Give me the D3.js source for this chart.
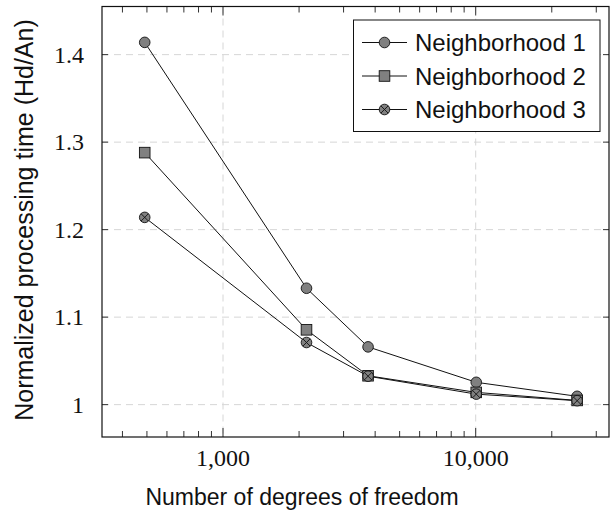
<!DOCTYPE html>
<html lang="en">
  <head>
    <meta charset="utf-8" />
    <title>Normalized processing time</title>
    <script src="https://d3js.org/d3.v7.min.js"></script>
    <style>
      body { margin: 0; background: #fff; }
      .tick-label { font-family: "Liberation Serif", serif; font-size: 24px; fill: #111; }
      .axis-title { font-family: "Liberation Sans", sans-serif; font-size: 23px; fill: #111; }
      .legend text { font-family: "Liberation Sans", sans-serif; font-size: 24px; fill: #111; }
    </style>
  </head>
  <body>
    <div id="chart"></div>
  <script>
    // data
    var dofs = [490, 2140, 3750, 10050, 25200];
    var seriesNames = ["Neighborhood 1", "Neighborhood 2", "Neighborhood 3"];
    var n1 = [1.414, 1.133, 1.066, 1.0255, 1.0095];
    var n2 = [1.288, 1.0855, 1.033, 1.014, 1.0048];
    var n3 = [1.214, 1.071, 1.0325, 1.012, 1.0045];
    var markers = ["circle", "square", "otimes"];
    var xTicks = [1000, 10000];
    var xTickLabels = ["1,000", "10,000"];
    var yTicks = [1, 1.1, 1.2, 1.3, 1.4];
    var yTickLabels = ["1", "1.1", "1.2", "1.3", "1.4"];

    var width = 610, height = 513;
    var plotLeft = 102, plotRight = 609, plotTop = 6.5, plotBottom = 437;

    var svg = d3.select("#chart").append("svg")
        .attr("width", width)
        .attr("height", height);

    var x = d3.scaleLog().domain([332, 33690]).range([plotLeft, plotRight]);
    var y = d3.scaleLinear().domain([0.963, 1.455]).range([plotBottom, plotTop]);

    // grid
    var grid = svg.append("g").attr("stroke", "#d6d6d6").attr("stroke-dasharray", "7,5").attr("stroke-width", 1);
    grid.selectAll("line.v").data(xTicks).enter().append("line")
        .attr("x1", d => x(d)).attr("x2", d => x(d))
        .attr("y1", plotTop).attr("y2", plotBottom);
    grid.selectAll("line.h").data(yTicks).enter().append("line")
        .attr("x1", plotLeft).attr("x2", plotRight)
        .attr("y1", d => y(d)).attr("y2", d => y(d));

    // minor x ticks
    var minor = [];
    [100, 1000, 10000].forEach(function(b) {
      for (var k = 2; k <= 9; k++) {
        var v = b * k;
        if (v > x.domain()[0] && v < x.domain()[1]) minor.push(v);
      }
    });
    var ticks = svg.append("g").attr("stroke", "#333").attr("stroke-width", 1);
    minor.forEach(function(v) {
      ticks.append("line").attr("x1", x(v)).attr("x2", x(v)).attr("y1", plotBottom).attr("y2", plotBottom - 6);
      ticks.append("line").attr("x1", x(v)).attr("x2", x(v)).attr("y1", plotTop).attr("y2", plotTop + 6);
    });
    xTicks.forEach(function(v) {
      ticks.append("line").attr("x1", x(v)).attr("x2", x(v)).attr("y1", plotBottom).attr("y2", plotBottom - 9);
      ticks.append("line").attr("x1", x(v)).attr("x2", x(v)).attr("y1", plotTop).attr("y2", plotTop + 9);
    });
    yTicks.forEach(function(v) {
      ticks.append("line").attr("x1", plotLeft).attr("x2", plotLeft + 6).attr("y1", y(v)).attr("y2", y(v));
      ticks.append("line").attr("x1", plotRight).attr("x2", plotRight - 6).attr("y1", y(v)).attr("y2", y(v));
    });

    // frame
    svg.append("rect")
        .attr("x", plotLeft).attr("y", plotTop)
        .attr("width", plotRight - plotLeft).attr("height", plotBottom - plotTop)
        .attr("fill", "none").attr("stroke", "#111").attr("stroke-width", 1.2);

    // tick labels
    svg.selectAll("text.xt").data(xTicks).enter().append("text")
        .attr("class", "tick-label")
        .attr("x", d => x(d)).attr("y", 466)
        .attr("text-anchor", "middle")
        .text((d, i) => xTickLabels[i]);
    svg.selectAll("text.yt").data(yTicks).enter().append("text")
        .attr("class", "tick-label")
        .attr("x", 84).attr("y", d => y(d) + 8)
        .attr("text-anchor", "end")
        .text((d, i) => yTickLabels[i]);

    // axis titles
    svg.append("text").attr("class", "axis-title")
        .attr("x", 302).attr("y", 505)
        .attr("text-anchor", "middle")
        .text("Number of degrees of freedom");
    svg.append("text").attr("class", "axis-title")
        .attr("transform", "translate(33,220) rotate(-90)")
        .attr("text-anchor", "middle")
        .style("font-size", "25px")
        .text("Normalized processing time (Hd/An)");

    function drawMarker(g, type, cx, cy) {
      var r = 5.3;
      if (type === "square") {
        g.append("rect").attr("x", cx - r).attr("y", cy - r).attr("width", 2 * r).attr("height", 2 * r)
          .attr("fill", "#808080").attr("stroke", "#111").attr("stroke-width", 0.9);
      } else {
        g.append("circle").attr("cx", cx).attr("cy", cy).attr("r", r)
          .attr("fill", "#808080").attr("stroke", "#111").attr("stroke-width", 0.9);
        if (type === "otimes") {
          var d = r * 0.7;
          g.append("path")
            .attr("d", "M" + (cx - d) + "," + (cy - d) + "L" + (cx + d) + "," + (cy + d) +
                       "M" + (cx - d) + "," + (cy + d) + "L" + (cx + d) + "," + (cy - d))
            .attr("stroke", "#111").attr("stroke-width", 0.9);
        }
      }
    }

    var allSeries = [n1, n2, n3];
    var line = d3.line().x((d, i) => x(dofs[i])).y(d => y(d));
    allSeries.forEach(function(vals, s) {
      var g = svg.append("g");
      g.append("path").attr("d", line(vals))
        .attr("fill", "none").attr("stroke", "#111").attr("stroke-width", 1);
      vals.forEach(function(v, i) { drawMarker(g, markers[s], x(dofs[i]), y(v)); });
    });

    // legend
    var legend = svg.append("g").attr("class", "legend");
    legend.append("rect")
        .attr("x", 353.5).attr("y", 20)
        .attr("width", 246.5).attr("height", 111.5)
        .attr("fill", "#fff").attr("stroke", "#111").attr("stroke-width", 1);
    seriesNames.forEach(function(name, i) {
      var ly = 42.5 + i * 33.5;
      legend.append("line").attr("x1", 362).attr("x2", 407).attr("y1", ly).attr("y2", ly)
        .attr("stroke", "#111").attr("stroke-width", 1);
      drawMarker(legend, markers[i], 384.5, ly);
      legend.append("text").attr("x", 415).attr("y", ly + 8.5).text(name);
    });
  </script>
  </body>
</html>
